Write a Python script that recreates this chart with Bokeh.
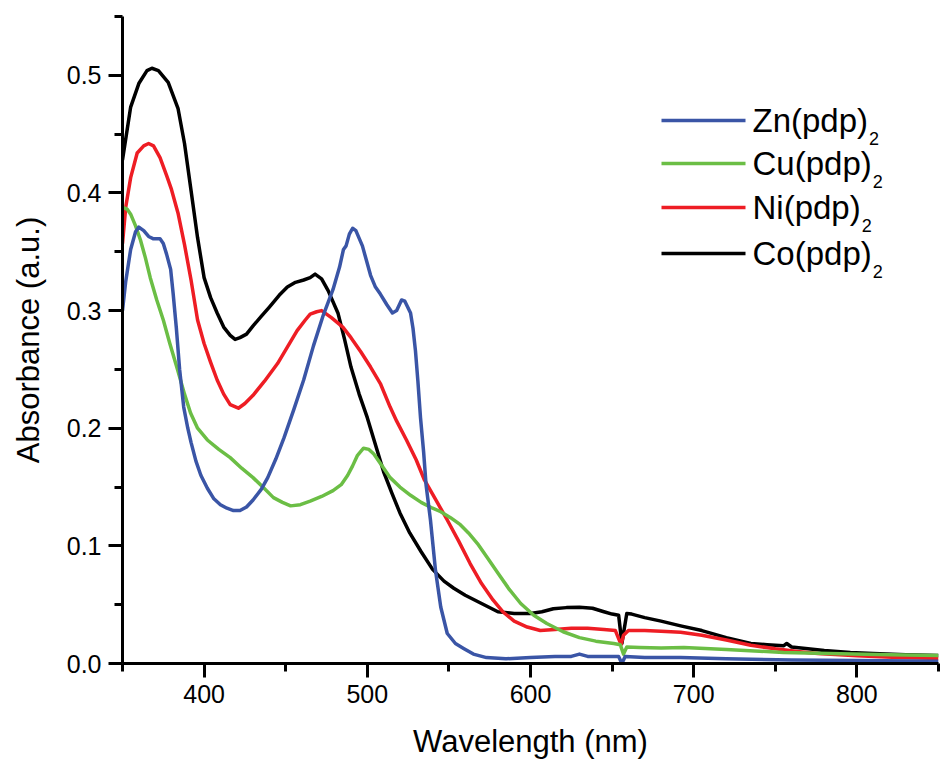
from bokeh.plotting import figure
from bokeh.models import FixedTicker, PrintfTickFormatter, Label, Arrow, Range1d
from bokeh.embed import file_html
from bokeh.resources import INLINE

# ---------------- data ----------------
zn_wl = [350, 352, 355, 358, 360, 363, 366, 369, 373, 375, 377, 379.5, 381, 383, 385, 387.5,
         390, 392, 395, 398, 402, 406, 410, 414, 418, 422, 426, 430, 435, 439, 444, 449, 455,
         461, 467, 473, 479, 483, 485.4, 487, 489, 491, 493, 497, 502, 505, 508, 512, 515.4,
         518, 521, 523, 526.5, 528, 529.5, 531, 532.6, 534.5, 536, 538.7, 541.8, 545, 549, 554,
         559, 565, 573, 585, 600, 615, 625, 630, 635, 645, 654, 656, 658, 670, 692, 720, 760,
         800, 850]
zn_abs = [0.300, 0.325, 0.352, 0.367, 0.371, 0.368, 0.363, 0.361, 0.361, 0.357, 0.348, 0.335,
          0.315, 0.285, 0.250, 0.218, 0.200, 0.188, 0.172, 0.160, 0.149, 0.140, 0.135, 0.132,
          0.130, 0.130, 0.133, 0.139, 0.148, 0.158, 0.174, 0.192, 0.216, 0.241, 0.270, 0.296,
          0.318, 0.337, 0.352, 0.355, 0.365, 0.370, 0.368, 0.355, 0.330, 0.320, 0.314, 0.305,
          0.298, 0.300, 0.309, 0.308, 0.298, 0.285, 0.266, 0.240, 0.209, 0.180, 0.152, 0.122,
          0.079, 0.048, 0.0255, 0.017, 0.0128, 0.008, 0.005, 0.004, 0.005, 0.006, 0.006, 0.008,
          0.006, 0.006, 0.006, 0.000, 0.006, 0.005, 0.005, 0.004, 0.003, 0.0025, 0.002]

cu_wl = [350, 353, 355, 358, 361, 364, 367, 371, 375, 379, 383.7, 388, 391.7, 396, 402, 409,
         416, 423, 430, 436, 442.5, 448, 453, 459, 465, 472, 479, 484, 488, 491, 494, 497.7,
         501, 504, 509, 514, 520, 526.5, 533, 540, 545, 551, 557, 562, 567.5, 574, 580, 587,
         594, 602, 610, 620, 630, 640, 651, 655, 657, 659, 667, 680, 694, 720, 755, 790, 820,
         850]
cu_abs = [0.388, 0.386, 0.382, 0.372, 0.360, 0.345, 0.328, 0.309, 0.292, 0.272, 0.250, 0.229,
          0.213, 0.200, 0.190, 0.182, 0.175, 0.166, 0.158, 0.150, 0.141, 0.137, 0.134, 0.135,
          0.138, 0.142, 0.147, 0.152, 0.160, 0.168, 0.177, 0.183, 0.182, 0.178, 0.168, 0.158,
          0.150, 0.143, 0.137, 0.132, 0.129, 0.124, 0.118, 0.111, 0.102, 0.089, 0.077, 0.063,
          0.051, 0.041, 0.034, 0.027, 0.022, 0.019, 0.017, 0.016, 0.008, 0.014, 0.0136, 0.0132,
          0.0136, 0.012, 0.0094, 0.0082, 0.0074, 0.0068]

ni_wl = [350, 352, 355, 359, 363, 366, 369, 373, 377, 380, 384, 388, 392, 396, 400, 404, 408,
         412, 416, 421, 425, 430, 437, 445, 451, 457, 462, 465, 469, 472, 478, 485, 490, 496,
         502, 508, 514, 518, 524, 530, 535, 542, 549, 556, 563, 570, 577, 583, 590, 598, 606,
         615, 625, 635, 645, 652, 655.5, 657, 660, 670, 680, 692, 705, 720, 735, 750, 765, 776,
         800, 825, 850]
ni_abs = [0.357, 0.388, 0.413, 0.434, 0.440, 0.442, 0.440, 0.430, 0.415, 0.403, 0.383, 0.356,
          0.326, 0.292, 0.272, 0.256, 0.241, 0.229, 0.220, 0.217, 0.221, 0.228, 0.240, 0.255,
          0.269, 0.283, 0.292, 0.297, 0.299, 0.300, 0.294, 0.286, 0.277, 0.265, 0.252, 0.238,
          0.218, 0.206, 0.190, 0.173, 0.156, 0.139, 0.122, 0.104, 0.085, 0.068, 0.054, 0.044,
          0.036, 0.031, 0.028, 0.029, 0.030, 0.030, 0.029, 0.028, 0.016, 0.024, 0.028, 0.028,
          0.0275, 0.0265, 0.024, 0.020, 0.0155, 0.0125, 0.0100, 0.0085, 0.0065, 0.005, 0.0043]

co_wl = [350, 355, 360, 365, 368, 372, 378, 384, 388, 392, 396, 400, 404, 408, 412, 416, 419,
         422, 426, 430, 435, 440, 446, 451, 456, 461, 465, 468, 472, 476, 482, 486, 490, 495,
         500, 505, 510, 515, 520, 526, 533, 540, 547, 553, 560, 570, 580, 590, 600, 607, 614,
         622, 630, 638, 645, 650, 654, 656, 657.5, 659, 662, 670, 680, 692, 705, 720, 735, 745,
         755, 757, 760, 780, 796, 810, 830, 850]
co_abs = [0.428, 0.473, 0.493, 0.504, 0.506, 0.504, 0.494, 0.472, 0.442, 0.402, 0.362, 0.328,
          0.311, 0.298, 0.286, 0.279, 0.2755, 0.277, 0.280, 0.287, 0.295, 0.303, 0.313, 0.320,
          0.324, 0.326, 0.328, 0.331, 0.327, 0.317, 0.298, 0.276, 0.252, 0.229, 0.209, 0.186,
          0.163, 0.145, 0.128, 0.111, 0.095, 0.080, 0.070, 0.064, 0.058, 0.051, 0.044, 0.0425,
          0.0425, 0.044, 0.0465, 0.0475, 0.0478, 0.047, 0.044, 0.042, 0.041, 0.017, 0.030,
          0.0425, 0.042, 0.039, 0.036, 0.032, 0.028, 0.022, 0.017, 0.016, 0.015, 0.017, 0.014,
          0.011, 0.0094, 0.0085, 0.0075, 0.0068]

series_names = ["Zn(pdp)", "Cu(pdp)", "Ni(pdp)", "Co(pdp)"]
series_colors = ["#3A55A6", "#6BBE45", "#EE1D24", "#000000"]
series_x = [zn_wl, cu_wl, ni_wl, co_wl]
series_y = [zn_abs, cu_abs, ni_abs, co_abs]

x_major = [400, 500, 600, 700, 800]
x_minor = [350, 450, 550, 650, 750, 850]
y_major = [0.0, 0.1, 0.2, 0.3, 0.4, 0.5]
y_minor = [0.05, 0.15, 0.25, 0.35, 0.45, 0.55]

FONT = "Liberation Sans"

p = figure(width=940, height=763, output_backend="svg", toolbar_location=None,
           x_range=Range1d(350, 850), y_range=Range1d(0, 0.55),
           min_border_left=122, min_border_right=2, min_border_top=16, min_border_bottom=100,
           background_fill_color="white", border_fill_color="white")
p.outline_line_color = None
p.xgrid.visible = False
p.ygrid.visible = False

for idx in [3, 2, 1, 0]:
    p.line(series_x[idx], series_y[idx], line_color=series_colors[idx], line_width=3.5,
           line_join="round")

p.xaxis.ticker = FixedTicker(ticks=x_major, minor_ticks=x_minor)
p.yaxis.ticker = FixedTicker(ticks=y_major, minor_ticks=y_minor)
p.yaxis.formatter = PrintfTickFormatter(format="%.1f")

for ax in (p.xaxis[0], p.yaxis[0]):
    ax.axis_line_width = 3
    ax.axis_line_color = "black"
    ax.major_tick_line_width = 3
    ax.minor_tick_line_width = 3
    ax.major_tick_out = 14
    ax.major_tick_in = 0
    ax.minor_tick_out = 8
    ax.minor_tick_in = 0
    ax.major_label_text_font = FONT
    ax.major_label_text_font_size = "25px"
    ax.major_label_text_color = "black"
    ax.major_label_standoff = 7
    ax.axis_label_text_font = FONT
    ax.axis_label_text_font_size = "31px"
    ax.axis_label_text_font_style = "normal"
    ax.axis_label_text_color = "black"

p.xaxis.axis_label = "Wavelength (nm)"
p.yaxis.axis_label = "Absorbance (a.u.)"
p.xaxis.axis_label_standoff = 18
p.yaxis.axis_label_standoff = 18

# ---------------- manual legend (frame screen units) ----------------
adv = {"Z": .611, "n": .556, "(": .333, "p": .556, "d": .556, ")": .333, "C": .722,
       "u": .556, "N": .722, "i": .222, "o": .556}
leg_fs = 33
sub_fs = 18
line_x0, line_x1 = 539, 623
text_x = 630
row_y = [543, 500, 456, 410]
for name, col, yy in zip(series_names, series_colors, row_y):
    p.add_layout(Arrow(x_start=line_x0, y_start=yy, x_end=line_x1, y_end=yy,
                       start_units="screen", end_units="screen", start=None, end=None,
                       line_color=col, line_width=3.5))
    p.add_layout(Label(x=text_x, y=yy, x_units="screen", y_units="screen", text=name,
                       text_font=FONT, text_font_size=f"{leg_fs}px", text_baseline="middle",
                       text_align="left", text_color="black"))
    w = sum(adv.get(ch, 0.556) for ch in name) * leg_fs
    p.add_layout(Label(x=text_x + w + 1, y=yy - 18, x_units="screen", y_units="screen",
                       text="2", text_font=FONT, text_font_size=f"{sub_fs}px",
                       text_baseline="middle", text_align="left", text_color="black"))

open("out.html", "w").write(file_html(p, INLINE))
